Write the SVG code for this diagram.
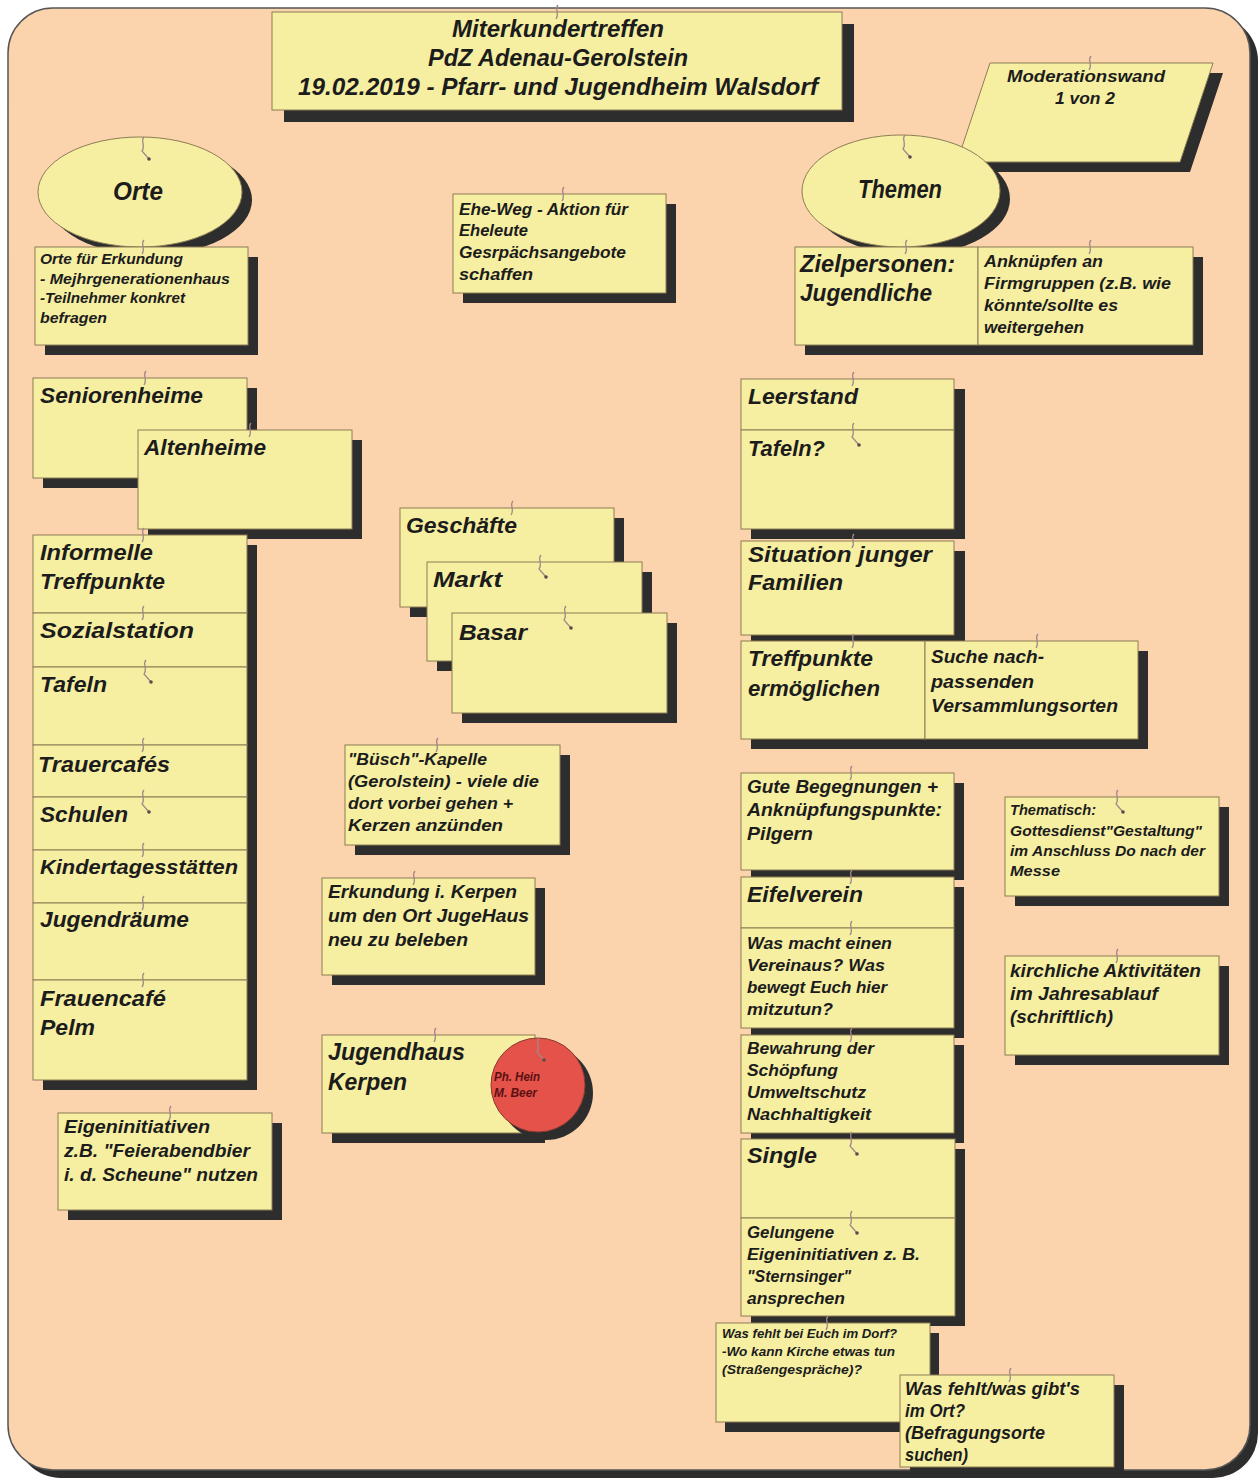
<svg xmlns="http://www.w3.org/2000/svg" xmlns:xlink="http://www.w3.org/1999/xlink" width="1260" height="1481" viewBox="0 0 1260 1481">
<style>
.n{fill:#F6EFA2;stroke:#8d7d55;stroke-width:1}
.s{fill:#2d2d2d}
.t{font-family:"Liberation Sans",Arial,sans-serif;font-weight:bold;font-style:italic;fill:#1c1c1c}
.pin{fill:none;stroke:#a2868a;stroke-width:1.3}
.red{font-family:"Liberation Sans",Arial,sans-serif;font-weight:bold;font-style:italic;fill:#5a1010}
</style>
<defs>
<path id="pinS" d="M1,-7 c-4,4 2,8 -2,14" class="pin"/>
<g id="pinL"><path d="M1,-7 c-4,4 2,8 -2,14 l7,8" class="pin"/><circle cx="6" cy="15" r="1.8" fill="#5a4a4a"/></g>
</defs>
<rect x="0" y="0" width="1260" height="1481" fill="#ffffff"/>
<g id="board">
<rect x="16" y="16" width="1242" height="1462" rx="45" fill="#2d2d2d"/>
<rect x="8" y="8" width="1242" height="1462" rx="45" fill="#FBD3AD" stroke="#555" stroke-width="1.5"/>
</g>

<g id="title">
<rect class="s" x="284" y="24" width="570" height="98"/>
<rect class="n" x="272" y="12" width="570" height="98"/>
<text class="t" x="452" y="37" font-size="23" textLength="212" lengthAdjust="spacingAndGlyphs">Miterkundertreffen</text>
<text class="t" x="428" y="66" font-size="23" textLength="260" lengthAdjust="spacingAndGlyphs">PdZ Adenau-Gerolstein</text>
<text class="t" x="298" y="95" font-size="23" textLength="520" lengthAdjust="spacingAndGlyphs">19.02.2019 - Pfarr- und Jugendheim Walsdorf</text>
</g>

<g id="moderationswand">
<polygon class="s" points="1000,73 1223,73 1190,172 967,172"/>
<polygon class="n" points="990,63 1213,63 1180,162 957,162"/>
<text class="t" x="1007" y="82" font-size="16" textLength="158" lengthAdjust="spacingAndGlyphs">Moderationswand</text>
<text class="t" x="1055" y="104" font-size="16" textLength="60" lengthAdjust="spacingAndGlyphs">1 von 2</text>
</g>

<g id="orte">
<ellipse class="s" cx="150" cy="200" rx="102" ry="55"/>
<ellipse class="n" cx="140" cy="192" rx="102" ry="55"/>
<text class="t" x="113" y="200" font-size="26" textLength="50" lengthAdjust="spacingAndGlyphs">Orte</text>
</g>

<g id="themen">
<ellipse class="s" cx="911" cy="199" rx="99" ry="56"/>
<ellipse class="n" cx="901" cy="191" rx="99" ry="56"/>
<text class="t" x="858" y="198" font-size="26" textLength="84" lengthAdjust="spacingAndGlyphs">Themen</text>
</g>

<g id="orte-erkundung">
<rect class="s" x="45" y="257" width="213" height="98"/>
<rect class="n" x="35" y="247" width="213" height="98"/>
<text class="t" x="40" y="264" font-size="14" textLength="143" lengthAdjust="spacingAndGlyphs">Orte für Erkundung</text>
<text class="t" x="40" y="284" font-size="14" textLength="190" lengthAdjust="spacingAndGlyphs">- Mejhrgenerationenhaus</text>
<text class="t" x="40" y="303" font-size="14" textLength="145" lengthAdjust="spacingAndGlyphs">-Teilnehmer konkret</text>
<text class="t" x="40" y="323" font-size="14" textLength="67" lengthAdjust="spacingAndGlyphs">befragen</text>
</g>

<g id="ehe-weg">
<rect class="s" x="463" y="204" width="213" height="99"/>
<rect class="n" x="453" y="194" width="213" height="99"/>
<text class="t" x="459" y="215" font-size="17" textLength="169" lengthAdjust="spacingAndGlyphs">Ehe-Weg - Aktion für</text>
<text class="t" x="459" y="236" font-size="17" textLength="69" lengthAdjust="spacingAndGlyphs">Eheleute</text>
<text class="t" x="459" y="258" font-size="17" textLength="167" lengthAdjust="spacingAndGlyphs">Gesrpächsangebote</text>
<text class="t" x="459" y="280" font-size="17" textLength="74" lengthAdjust="spacingAndGlyphs">schaffen</text>
</g>

<g id="zielpersonen">
<rect class="s" x="805" y="257" width="398" height="98"/>
<rect class="n" x="795" y="247" width="183" height="98"/>
<text class="t" x="800" y="272" font-size="24" textLength="155" lengthAdjust="spacingAndGlyphs">Zielpersonen:</text>
<text class="t" x="800" y="301" font-size="24" textLength="132" lengthAdjust="spacingAndGlyphs">Jugendliche</text>
</g>
<g id="anknuepfen">
<rect class="n" x="978" y="247" width="215" height="98"/>
<text class="t" x="984" y="267" font-size="16" textLength="119" lengthAdjust="spacingAndGlyphs">Anknüpfen an</text>
<text class="t" x="984" y="289" font-size="16" textLength="187" lengthAdjust="spacingAndGlyphs">Firmgruppen (z.B. wie</text>
<text class="t" x="984" y="311" font-size="16" textLength="134" lengthAdjust="spacingAndGlyphs">könnte/sollte es</text>
<text class="t" x="984" y="333" font-size="16" textLength="100" lengthAdjust="spacingAndGlyphs">weitergehen</text>
</g>

<g id="seniorenheime">
<rect class="s" x="43" y="388" width="214" height="100"/>
<rect class="n" x="33" y="378" width="214" height="100"/>
<text class="t" x="40" y="403" font-size="22" textLength="163" lengthAdjust="spacingAndGlyphs">Seniorenheime</text>
</g>
<g id="altenheime">
<rect class="s" x="148" y="440" width="214" height="99"/>
<rect class="n" x="138" y="430" width="214" height="99"/>
<text class="t" x="144" y="455" font-size="22" textLength="122" lengthAdjust="spacingAndGlyphs">Altenheime</text>
</g>

<g id="informelle-treffpunkte">
<rect class="s" x="43" y="545" width="214" height="78"/>
<rect class="n" x="33" y="535" width="214" height="78"/>
<text class="t" x="40" y="560" font-size="22" textLength="113" lengthAdjust="spacingAndGlyphs">Informelle</text>
<text class="t" x="40" y="589" font-size="22" textLength="125" lengthAdjust="spacingAndGlyphs">Treffpunkte</text>
</g>
<g id="sozialstation">
<rect class="s" x="43" y="623" width="214" height="54"/>
<rect class="n" x="33" y="613" width="214" height="54"/>
<text class="t" x="40" y="638" font-size="22" textLength="154" lengthAdjust="spacingAndGlyphs">Sozialstation</text>
</g>
<g id="tafeln">
<rect class="s" x="43" y="677" width="214" height="78"/>
<rect class="n" x="33" y="667" width="214" height="78"/>
<text class="t" x="40" y="692" font-size="22" textLength="67" lengthAdjust="spacingAndGlyphs">Tafeln</text>
</g>
<g id="trauercafes">
<rect class="s" x="43" y="755" width="214" height="52"/>
<rect class="n" x="33" y="745" width="214" height="52"/>
<text class="t" x="38" y="772" font-size="22" textLength="132" lengthAdjust="spacingAndGlyphs">Trauercafés</text>
</g>
<g id="schulen">
<rect class="s" x="43" y="807" width="214" height="53"/>
<rect class="n" x="33" y="797" width="214" height="53"/>
<text class="t" x="40" y="822" font-size="22" textLength="88" lengthAdjust="spacingAndGlyphs">Schulen</text>
</g>
<g id="kindertagesstaetten">
<rect class="s" x="43" y="860" width="214" height="53"/>
<rect class="n" x="33" y="850" width="214" height="53"/>
<text class="t" x="40" y="874" font-size="21" textLength="198" lengthAdjust="spacingAndGlyphs">Kindertagesstätten</text>
</g>
<g id="jugendraeume">
<rect class="s" x="43" y="913" width="214" height="77"/>
<rect class="n" x="33" y="903" width="214" height="77"/>
<text class="t" x="40" y="927" font-size="22" textLength="149" lengthAdjust="spacingAndGlyphs">Jugendräume</text>
</g>
<g id="frauencafe">
<rect class="s" x="43" y="990" width="214" height="100"/>
<rect class="n" x="33" y="980" width="214" height="100"/>
<text class="t" x="40" y="1006" font-size="22" textLength="126" lengthAdjust="spacingAndGlyphs">Frauencafé</text>
<text class="t" x="40" y="1035" font-size="22" textLength="55" lengthAdjust="spacingAndGlyphs">Pelm</text>
</g>

<g id="eigeninitiativen">
<rect class="s" x="68" y="1123" width="214" height="97"/>
<rect class="n" x="58" y="1113" width="214" height="97"/>
<text class="t" x="64" y="1133" font-size="19" textLength="146" lengthAdjust="spacingAndGlyphs">Eigeninitiativen</text>
<text class="t" x="64" y="1157" font-size="19" textLength="186" lengthAdjust="spacingAndGlyphs">z.B. "Feierabendbier</text>
<text class="t" x="64" y="1181" font-size="19" textLength="194" lengthAdjust="spacingAndGlyphs">i. d. Scheune" nutzen</text>
</g>

<g id="geschaefte">
<rect class="s" x="410" y="518" width="214" height="99"/>
<rect class="n" x="400" y="508" width="214" height="99"/>
<text class="t" x="406" y="533" font-size="22" textLength="111" lengthAdjust="spacingAndGlyphs">Geschäfte</text>
</g>
<g id="markt">
<rect class="s" x="437" y="572" width="215" height="99"/>
<rect class="n" x="427" y="562" width="215" height="99"/>
<text class="t" x="433" y="587" font-size="22" textLength="69" lengthAdjust="spacingAndGlyphs">Markt</text>
</g>
<g id="basar">
<rect class="s" x="462" y="623" width="215" height="100"/>
<rect class="n" x="452" y="613" width="215" height="100"/>
<text class="t" x="459" y="640" font-size="22" textLength="68" lengthAdjust="spacingAndGlyphs">Basar</text>
</g>

<g id="buesch-kapelle">
<rect class="s" x="355" y="755" width="215" height="100"/>
<rect class="n" x="345" y="745" width="215" height="100"/>
<text class="t" x="348" y="765" font-size="17" textLength="139" lengthAdjust="spacingAndGlyphs">"Büsch"-Kapelle</text>
<text class="t" x="348" y="787" font-size="17" textLength="191" lengthAdjust="spacingAndGlyphs">(Gerolstein) - viele die</text>
<text class="t" x="348" y="809" font-size="17" textLength="165" lengthAdjust="spacingAndGlyphs">dort vorbei gehen +</text>
<text class="t" x="348" y="831" font-size="17" textLength="155" lengthAdjust="spacingAndGlyphs">Kerzen anzünden</text>
</g>

<g id="erkundung-kerpen">
<rect class="s" x="332" y="888" width="213" height="97"/>
<rect class="n" x="322" y="878" width="213" height="97"/>
<text class="t" x="328" y="898" font-size="19" textLength="189" lengthAdjust="spacingAndGlyphs">Erkundung i. Kerpen</text>
<text class="t" x="328" y="922" font-size="19" textLength="201" lengthAdjust="spacingAndGlyphs">um den Ort JugeHaus</text>
<text class="t" x="328" y="946" font-size="19" textLength="140" lengthAdjust="spacingAndGlyphs">neu zu beleben</text>
</g>

<g id="jugendhaus-kerpen">
<rect class="s" x="332" y="1045" width="213" height="98"/>
<rect class="n" x="322" y="1035" width="213" height="98"/>
<text class="t" x="328" y="1060" font-size="24" textLength="137" lengthAdjust="spacingAndGlyphs">Jugendhaus</text>
<text class="t" x="328" y="1090" font-size="24" textLength="79" lengthAdjust="spacingAndGlyphs">Kerpen</text>
</g>
<g id="ph-hein-m-beer">
<circle class="s" cx="546" cy="1093" r="47"/>
<circle cx="538" cy="1085" r="47" fill="#E4524A" stroke="#8a3a30" stroke-width="1"/>
<text class="red" x="494" y="1081" font-size="12" textLength="46" lengthAdjust="spacingAndGlyphs">Ph. Hein</text>
<text class="red" x="494" y="1097" font-size="12" textLength="43" lengthAdjust="spacingAndGlyphs">M. Beer</text>
</g>

<g id="leerstand">
<rect class="s" x="751" y="389" width="214" height="51"/>
<rect class="n" x="741" y="379" width="213" height="51"/>
<text class="t" x="748" y="404" font-size="22" textLength="110" lengthAdjust="spacingAndGlyphs">Leerstand</text>
</g>
<g id="tafeln-frage">
<rect class="s" x="751" y="440" width="214" height="99"/>
<rect class="n" x="741" y="430" width="213" height="99"/>
<text class="t" x="748" y="456" font-size="22" textLength="77" lengthAdjust="spacingAndGlyphs">Tafeln?</text>
</g>
<g id="situation-familien">
<rect class="s" x="751" y="551" width="214" height="94"/>
<rect class="n" x="741" y="541" width="213" height="94"/>
<text class="t" x="748" y="562" font-size="22" textLength="184" lengthAdjust="spacingAndGlyphs">Situation junger</text>
<text class="t" x="748" y="590" font-size="22" textLength="95" lengthAdjust="spacingAndGlyphs">Familien</text>
</g>
<g id="treffpunkte-ermoeglichen">
<rect class="s" x="751" y="651" width="397" height="98"/>
<rect class="n" x="741" y="641" width="184" height="98"/>
<text class="t" x="748" y="666" font-size="22" textLength="125" lengthAdjust="spacingAndGlyphs">Treffpunkte</text>
<text class="t" x="748" y="696" font-size="22" textLength="132" lengthAdjust="spacingAndGlyphs">ermöglichen</text>
</g>
<g id="suche-versammlungsorte">
<rect class="n" x="925" y="641" width="213" height="98"/>
<text class="t" x="931" y="663" font-size="19" textLength="113" lengthAdjust="spacingAndGlyphs">Suche nach-</text>
<text class="t" x="931" y="688" font-size="19" textLength="103" lengthAdjust="spacingAndGlyphs">passenden</text>
<text class="t" x="931" y="712" font-size="19" textLength="187" lengthAdjust="spacingAndGlyphs">Versammlungsorten</text>
</g>

<g id="gute-begegnungen">
<rect class="s" x="751" y="783" width="213" height="97"/>
<rect class="n" x="741" y="773" width="213" height="97"/>
<text class="t" x="747" y="793" font-size="19" textLength="191" lengthAdjust="spacingAndGlyphs">Gute Begegnungen +</text>
<text class="t" x="747" y="816" font-size="19" textLength="195" lengthAdjust="spacingAndGlyphs">Anknüpfungspunkte:</text>
<text class="t" x="747" y="840" font-size="19" textLength="66" lengthAdjust="spacingAndGlyphs">Pilgern</text>
</g>
<g id="eifelverein">
<rect class="s" x="751" y="887" width="213" height="51"/>
<rect class="n" x="741" y="877" width="213" height="51"/>
<text class="t" x="747" y="902" font-size="22" textLength="116" lengthAdjust="spacingAndGlyphs">Eifelverein</text>
</g>
<g id="was-macht-verein">
<rect class="s" x="751" y="938" width="213" height="100"/>
<rect class="n" x="741" y="928" width="213" height="100"/>
<text class="t" x="747" y="949" font-size="17" textLength="145" lengthAdjust="spacingAndGlyphs">Was macht einen</text>
<text class="t" x="747" y="971" font-size="17" textLength="138" lengthAdjust="spacingAndGlyphs">Vereinaus? Was</text>
<text class="t" x="747" y="993" font-size="17" textLength="140" lengthAdjust="spacingAndGlyphs">bewegt Euch hier</text>
<text class="t" x="747" y="1015" font-size="17" textLength="86" lengthAdjust="spacingAndGlyphs">mitzutun?</text>
</g>
<g id="bewahrung-schoepfung">
<rect class="s" x="751" y="1045" width="213" height="98"/>
<rect class="n" x="741" y="1035" width="213" height="98"/>
<text class="t" x="747" y="1054" font-size="16" textLength="127" lengthAdjust="spacingAndGlyphs">Bewahrung der</text>
<text class="t" x="747" y="1076" font-size="16" textLength="91" lengthAdjust="spacingAndGlyphs">Schöpfung</text>
<text class="t" x="747" y="1098" font-size="16" textLength="119" lengthAdjust="spacingAndGlyphs">Umweltschutz</text>
<text class="t" x="747" y="1120" font-size="16" textLength="124" lengthAdjust="spacingAndGlyphs">Nachhaltigkeit</text>
</g>
<g id="single">
<rect class="s" x="751" y="1149" width="214" height="79"/>
<rect class="n" x="741" y="1139" width="214" height="79"/>
<text class="t" x="747" y="1163" font-size="22" textLength="70" lengthAdjust="spacingAndGlyphs">Single</text>
</g>
<g id="gelungene-eigeninitiativen">
<rect class="s" x="751" y="1228" width="214" height="98"/>
<rect class="n" x="741" y="1218" width="214" height="98"/>
<text class="t" x="747" y="1238" font-size="17" textLength="87" lengthAdjust="spacingAndGlyphs">Gelungene</text>
<text class="t" x="747" y="1260" font-size="17" textLength="173" lengthAdjust="spacingAndGlyphs">Eigeninitiativen z. B.</text>
<text class="t" x="747" y="1282" font-size="17" textLength="104" lengthAdjust="spacingAndGlyphs">"Sternsinger"</text>
<text class="t" x="747" y="1304" font-size="17" textLength="98" lengthAdjust="spacingAndGlyphs">ansprechen</text>
</g>
<g id="was-fehlt-dorf">
<rect class="s" x="725" y="1333" width="214" height="99"/>
<rect class="n" x="716" y="1323" width="214" height="99"/>
<text class="t" x="722" y="1338" font-size="13" textLength="175" lengthAdjust="spacingAndGlyphs">Was fehlt bei Euch im Dorf?</text>
<text class="t" x="722" y="1356" font-size="13" textLength="173" lengthAdjust="spacingAndGlyphs">-Wo kann Kirche etwas tun</text>
<text class="t" x="722" y="1374" font-size="13" textLength="140" lengthAdjust="spacingAndGlyphs">(Straßengespräche)?</text>
</g>
<g id="was-fehlt-ort">
<rect class="s" x="910" y="1385" width="214" height="88"/>
<rect class="n" x="900" y="1375" width="214" height="92"/>
<text class="t" x="905" y="1395" font-size="18" textLength="175" lengthAdjust="spacingAndGlyphs">Was fehlt/was gibt's</text>
<text class="t" x="905" y="1417" font-size="18" textLength="60" lengthAdjust="spacingAndGlyphs">im Ort?</text>
<text class="t" x="905" y="1439" font-size="18" textLength="140" lengthAdjust="spacingAndGlyphs">(Befragungsorte</text>
<text class="t" x="905" y="1461" font-size="18" textLength="63" lengthAdjust="spacingAndGlyphs">suchen)</text>
</g>

<g id="thematisch">
<rect class="s" x="1015" y="807" width="214" height="99"/>
<rect class="n" x="1005" y="797" width="214" height="99"/>
<text class="t" x="1010" y="815" font-size="14" textLength="86" lengthAdjust="spacingAndGlyphs">Thematisch:</text>
<text class="t" x="1010" y="836" font-size="14" textLength="192" lengthAdjust="spacingAndGlyphs">Gottesdienst"Gestaltung"</text>
<text class="t" x="1010" y="856" font-size="14" textLength="195" lengthAdjust="spacingAndGlyphs">im Anschluss Do nach der</text>
<text class="t" x="1010" y="876" font-size="14" textLength="50" lengthAdjust="spacingAndGlyphs">Messe</text>
</g>
<g id="kirchliche-aktivitaeten">
<rect class="s" x="1015" y="966" width="214" height="99"/>
<rect class="n" x="1005" y="956" width="214" height="99"/>
<text class="t" x="1010" y="977" font-size="18" textLength="191" lengthAdjust="spacingAndGlyphs">kirchliche Aktivitäten</text>
<text class="t" x="1010" y="1000" font-size="18" textLength="148" lengthAdjust="spacingAndGlyphs">im Jahresablauf</text>
<text class="t" x="1010" y="1023" font-size="18" textLength="103" lengthAdjust="spacingAndGlyphs">(schriftlich)</text>
</g>

<g id="pins">
<use xlink:href="#pinS" x="557" y="12"/>
<use xlink:href="#pinS" x="1090" y="63"/>
<use xlink:href="#pinL" x="143" y="144"/>
<use xlink:href="#pinS" x="143" y="247"/>
<use xlink:href="#pinS" x="563" y="194"/>
<use xlink:href="#pinL" x="904" y="142"/>
<use xlink:href="#pinS" x="906" y="247"/>
<use xlink:href="#pinS" x="1090" y="247"/>
<use xlink:href="#pinS" x="145" y="378"/>
<use xlink:href="#pinS" x="250" y="430"/>
<use xlink:href="#pinS" x="143" y="535"/>
<use xlink:href="#pinS" x="143" y="613"/>
<use xlink:href="#pinL" x="145" y="667"/>
<use xlink:href="#pinS" x="143" y="745"/>
<use xlink:href="#pinL" x="143" y="797"/>
<use xlink:href="#pinS" x="143" y="850"/>
<use xlink:href="#pinS" x="143" y="903"/>
<use xlink:href="#pinS" x="143" y="980"/>
<use xlink:href="#pinS" x="512" y="508"/>
<use xlink:href="#pinL" x="540" y="562"/>
<use xlink:href="#pinL" x="565" y="613"/>
<use xlink:href="#pinS" x="853" y="379"/>
<use xlink:href="#pinL" x="853" y="430"/>
<use xlink:href="#pinS" x="853" y="541"/>
<use xlink:href="#pinS" x="853" y="641"/>
<use xlink:href="#pinS" x="1037" y="641"/>
<use xlink:href="#pinS" x="437" y="745"/>
<use xlink:href="#pinS" x="414" y="878"/>
<use xlink:href="#pinS" x="435" y="1035"/>
<use xlink:href="#pinL" x="538" y="1045"/>
<use xlink:href="#pinS" x="170" y="1113"/>
<use xlink:href="#pinS" x="851" y="773"/>
<use xlink:href="#pinS" x="851" y="877"/>
<use xlink:href="#pinS" x="851" y="928"/>
<use xlink:href="#pinS" x="851" y="1035"/>
<use xlink:href="#pinL" x="851" y="1139"/>
<use xlink:href="#pinL" x="851" y="1218"/>
<use xlink:href="#pinS" x="827" y="1323"/>
<use xlink:href="#pinS" x="1010" y="1375"/>
<use xlink:href="#pinL" x="1117" y="797"/>
<use xlink:href="#pinS" x="1117" y="956"/>
</g>
</svg>
